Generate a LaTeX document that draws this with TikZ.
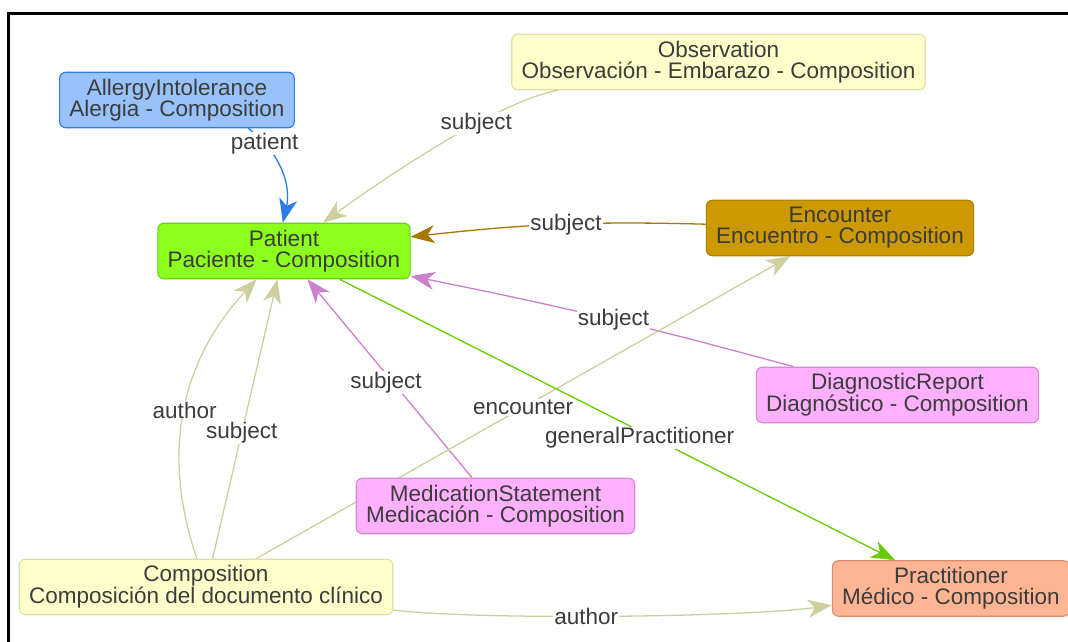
\documentclass[tikz,border=0pt]{standalone}
\usepackage{fontspec}
\setmainfont{Liberation Sans}
\usetikzlibrary{arrows.meta, backgrounds}

\definecolor{txtgray}{HTML}{3C3C3C}
\definecolor{blueFill}{HTML}{97C2FC}
\definecolor{blueDraw}{HTML}{2B7CE9}
\definecolor{yellowFill}{HTML}{FFFFCC}
\definecolor{yellowDraw}{HTML}{DEDEA8}
\definecolor{tanEdge}{HTML}{CFCF9E}
\definecolor{greenFill}{HTML}{8CFF1E}
\definecolor{greenDraw}{HTML}{6BD10F}
\definecolor{greenEdge}{HTML}{66CC00}
\definecolor{goldFill}{HTML}{CC9900}
\definecolor{goldDraw}{HTML}{B08400}
\definecolor{goldEdge}{HTML}{A67800}
\definecolor{pinkFill}{HTML}{FFB0FF}
\definecolor{pinkDraw}{HTML}{D489D4}
\definecolor{pinkEdge}{HTML}{CC80CC}
\definecolor{salmonFill}{HTML}{FFB594}
\definecolor{salmonDraw}{HTML}{D98C6C}

\tikzstyle{block} = [rectangle, rounded corners=6pt, minimum height=55.5pt, inner xsep=9.8pt, inner ysep=2pt, align=center, line width=1.1pt, text=txtgray, font=\fontsize{22.5}{21}\selectfont]
\tikzstyle{blueblock} = [fill=blueFill, draw=blueDraw]
\tikzstyle{yellowblock} = [fill=yellowFill, draw=yellowDraw]
\tikzstyle{greenblock} = [fill=greenFill, draw=greenDraw]
\tikzstyle{goldblock} = [fill=goldFill, draw=goldDraw]
\tikzstyle{pinkblock} = [fill=pinkFill, draw=pinkDraw]
\tikzstyle{salmonblock} = [fill=salmonFill, draw=salmonDraw]
\tikzstyle{arrow} = [line width=1.3pt, -{Stealth[length=24pt,width=18pt,inset=7pt]}]
\tikzstyle{lbl} = [fill=white, inner sep=1pt, text=txtgray, font=\fontsize{22.5}{21}\selectfont]

\begin{document}
\begin{tikzpicture} [node distance=100pt]
\useasboundingbox (0,0) rectangle (1068pt,-642pt);
\draw [line width=2.6pt] (8.7pt,-642pt) |- (1068pt,-13.3pt);

\node (pat) [block, greenblock] at (284pt,-251pt) {Patient\\Paciente - Composition};
\node (allergy) [block, blueblock, above of=pat, xshift=-107pt, yshift=51pt] {AllergyIntolerance\\Alergia - Composition};
\node (obs) [block, yellowblock, right of=pat, xshift=334.5pt, yshift=189pt] {Observation\\Observación - Embarazo - Composition};
\node (enc) [block, goldblock, right of=pat, xshift=456pt, yshift=23pt] {Encounter\\Encuentro - Composition};
\node (diag) [block, pinkblock, below of=enc, xshift=57.5pt, yshift=-67pt] {DiagnosticReport\\Diagnóstico - Composition};
\node (med) [block, pinkblock, below of=pat, xshift=211.5pt, yshift=-155pt] {MedicationStatement\\Medicación - Composition};
\node (comp) [block, yellowblock, below of=pat, xshift=-78pt, yshift=-236pt] {Composition\\Composición del documento clínico};
\node (prac) [block, salmonblock, right of=comp, xshift=645pt, yshift=-1.5pt] {Practitioner\\Médico - Composition};

\begin{scope}[on background layer]
\draw [arrow, blueDraw] (allergy) to[bend left=33] node[lbl, pos=0.2] {patient} (pat);
\draw [arrow, tanEdge] (obs) to[out=190, in=36, looseness=0.6] node[lbl, pos=0.35] {subject} (pat);
\draw [arrow, goldEdge] (enc) to[bend right=4] node[lbl, pos=0.47] {subject} (pat);
\draw [arrow, pinkEdge] (diag) to[bend right=2] node[lbl, pos=0.47] {subject} (pat);
\draw [arrow, pinkEdge] (med) -- node[lbl, pos=0.48, xshift=-7pt] {subject} (pat);
\draw [arrow, tanEdge] (comp) to[bend left=31] node[lbl, midway] {author} (pat);
\draw [arrow, tanEdge] (comp) -- node[lbl, pos=0.45] {subject} (pat);
\draw [arrow, tanEdge] (comp) -- node[lbl, midway] {encounter} (enc);
\draw [arrow, greenEdge] (pat) -- node[lbl, pos=0.54, yshift=-7pt] {generalPractitioner} (prac);
\draw [arrow, tanEdge] (comp) to[out=-7, in=188, looseness=0.5] node[lbl, pos=0.45] {author} (prac);
\end{scope}
\end{tikzpicture}
\end{document}
